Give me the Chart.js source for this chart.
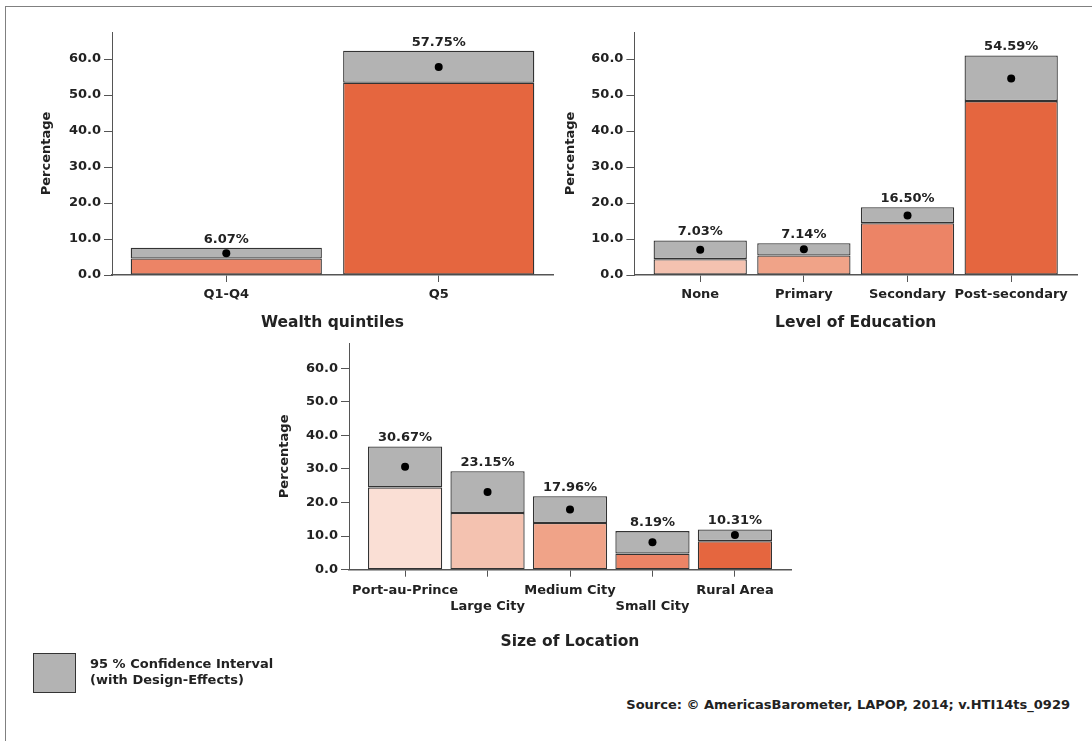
<!DOCTYPE html>
<html><head><meta charset="utf-8">
<script src="https://cdn.jsdelivr.net/npm/chart.js@4.4.1/dist/chart.umd.min.js"></script>
<style>
html,body{margin:0;padding:0;background:#fff;}
body{width:1092px;height:741px;overflow:hidden;position:relative;font-family:'DejaVu Sans',sans-serif;color:#222;}
canvas{position:absolute;}
.fl{position:absolute;left:5px;top:6px;width:1px;height:735px;background:#808080;}
.ft{position:absolute;left:5px;top:6px;width:1087px;height:1px;background:#808080;}
.lbox{position:absolute;left:33px;top:653px;width:41px;height:38px;background:#b3b3b3;border:1px solid #333;}
.ltxt{position:absolute;left:90px;top:656px;font-weight:bold;font-size:13px;line-height:16px;white-space:nowrap;}
.src{position:absolute;right:22px;top:697px;font-weight:bold;font-size:13px;line-height:16px;white-space:nowrap;}
</style></head>
<body>
<div class="fl"></div><div class="ft"></div>
<canvas id="c1" width="560" height="320" style="left:20px;top:20px;width:560px;height:320px;"></canvas>
<canvas id="c2" width="540" height="320" style="left:550px;top:20px;width:540px;height:320px;"></canvas>
<canvas id="c3" width="560" height="330" style="left:260px;top:330px;width:560px;height:330px;"></canvas>
<div class="lbox"></div>
<div class="ltxt">95 % Confidence Interval<br>(with Design-Effects)</div>
<div class="src">Source: © AmericasBarometer, LAPOP, 2014; v.HTI14ts_0929</div>
<script>
// ---- data ----
const wealthCats = ['Q1-Q4', 'Q5'];
const wealthMean = [6.07, 57.75];
const wealthLow  = [4.6, 53.4];
const wealthHigh = [7.6, 62.3];

const eduCats = ['None', 'Primary', 'Secondary', 'Post-secondary'];
const eduMean = [7.03, 7.14, 16.50, 54.59];
const eduLow  = [4.4, 5.4, 14.4, 48.3];
const eduHigh = [9.6, 8.8, 18.8, 61.0];

const locCats = ['Port-au-Prince', 'Large City', 'Medium City', 'Small City', 'Rural Area'];
const locMean = [30.67, 23.15, 17.96, 8.19, 10.31];
const locLow  = [24.5, 16.9, 13.9, 4.8, 8.5];
const locHigh = [36.7, 29.3, 21.9, 11.5, 12.0];

const yTickValues = [0, 10, 20, 30, 40, 50, 60];

// ---- styles ----
const FONT = "'DejaVu Sans', sans-serif";
const TXT = '#222';
const AXIS = '#555';
const EDGE = '#333';
const GRAY = '#b3b3b3';
const wealthColors = ['#ec8466', '#e5663f'];
const eduColors = ['#f4c2b0', '#f0a388', '#ec8466', '#e5663f'];
const locColors = ['#fadfd5', '#f4c2b0', '#f0a388', '#ec8466', '#e5663f'];

const valueLabels = {
  id: 'valueLabels',
  afterDatasetsDraw(chart, args, opts) {
    const ctx = chart.ctx;
    const meta = chart.getDatasetMeta(1);
    ctx.save();
    ctx.font = 'bold 13px ' + FONT;
    ctx.fillStyle = TXT;
    ctx.textAlign = 'center';
    ctx.textBaseline = 'bottom';
    meta.data.forEach((el, i) => {
      const top = Math.min(el.y, el.base);
      ctx.fillText(opts.means[i].toFixed(2) + '%', el.x, top - 2);
    });
    ctx.restore();
  }
};

function makeChart(id, c) {
  const n = c.cats.length;
  return new Chart(document.getElementById(id), {
    type: 'bar',
    data: {
      datasets: [
        {
          type: 'bar', order: 2, grouped: false,
          data: c.cats.map((k, i) => ({x: i, y: [0, c.low[i]]})),
          backgroundColor: c.colors, borderColor: EDGE, borderWidth: 1.3,
          borderSkipped: false, barPercentage: 0.9, categoryPercentage: 1
        },
        {
          type: 'bar', order: 1, grouped: false,
          data: c.cats.map((k, i) => ({x: i, y: [c.low[i], c.high[i]]})),
          backgroundColor: GRAY, borderColor: EDGE, borderWidth: 1.3,
          borderSkipped: false, barPercentage: 0.9, categoryPercentage: 1
        },
        {
          type: 'scatter', order: 0,
          data: c.cats.map((k, i) => ({x: i, y: c.mean[i]})),
          pointRadius: 4, pointBackgroundColor: '#000', pointBorderWidth: 0
        }
      ]
    },
    options: {
      responsive: false, animation: false, maintainAspectRatio: false,
      layout: {padding: {top: c.padTop, right: c.padRight, left: 0, bottom: 0}},
      plugins: {legend: {display: false}, tooltip: {enabled: false}, valueLabels: {means: c.mean}},
      scales: {
        x: {
          type: 'linear', min: -c.edge, max: n - 1 + c.edge, offset: false,
          afterBuildTicks: s => { s.ticks = c.cats.map((k, i) => ({value: i})); },
          afterFit: s => { s.height = c.xHeight; },
          ticks: {
            autoSkip: false, maxRotation: 0, minRotation: 0, padding: c.xTickPad,
            color: TXT, font: {family: FONT, size: 13, weight: 'bold'},
            callback: (v, i) => c.stagger ? (i % 2 === 1 ? ['', c.cats[i]] : c.cats[i]) : c.cats[i]
          },
          grid: {display: true, offset: false, drawOnChartArea: false, drawTicks: true, tickLength: 7, color: AXIS, lineWidth: 1},
          border: {display: true, color: AXIS, width: 1.5},
          title: {display: true, text: c.xTitle, color: TXT,
                  font: {family: FONT, size: 15.5, weight: 'bold'}, padding: {top: 0, bottom: c.xTitlePad}}
        },
        y: {
          type: 'linear', min: 0, max: 67.5,
          afterBuildTicks: s => { s.ticks = yTickValues.map(v => ({value: v})); },
          afterFit: s => { s.width = c.yWidth; },
          ticks: {padding: 3, color: TXT, font: {family: FONT, size: 13, weight: 'bold'},
                  callback: v => Number(v).toFixed(1)},
          grid: {display: true, offset: false, drawOnChartArea: false, drawTicks: true, tickLength: 8, color: AXIS, lineWidth: 1},
          border: {display: true, color: AXIS, width: 1},
          title: {display: true, text: 'Percentage', color: TXT,
                  font: {family: FONT, size: 13, weight: 'bold'}, padding: {top: c.yTitlePad, bottom: 0}}
        }
      }
    },
    plugins: [valueLabels]
  });
}

makeChart('c1', {cats: wealthCats, mean: wealthMean, low: wealthLow, high: wealthHigh, colors: wealthColors,
  edge: 0.538, padTop: 12, padRight: 27, yWidth: 92, xHeight: 65, xTickPad: 5, xTitlePad: 7.7, yTitlePad: 19,
  xTitle: 'Wealth quintiles', stagger: false});
makeChart('c2', {cats: eduCats, mean: eduMean, low: eduLow, high: eduHigh, colors: eduColors,
  edge: 0.635, padTop: 12, padRight: 13, yWidth: 84.4, xHeight: 65, xTickPad: 5, xTitlePad: 7.7, yTitlePad: 13,
  xTitle: 'Level of Education', stagger: false});
makeChart('c3', {cats: locCats, mean: locMean, low: locLow, high: locHigh, colors: locColors,
  edge: 0.68, padTop: 13, padRight: 29, yWidth: 89, xHeight: 90.3, xTickPad: 6.5, xTitlePad: 9, yTitlePad: 17,
  xTitle: 'Size of Location', stagger: true});
</script>
</body></html>
